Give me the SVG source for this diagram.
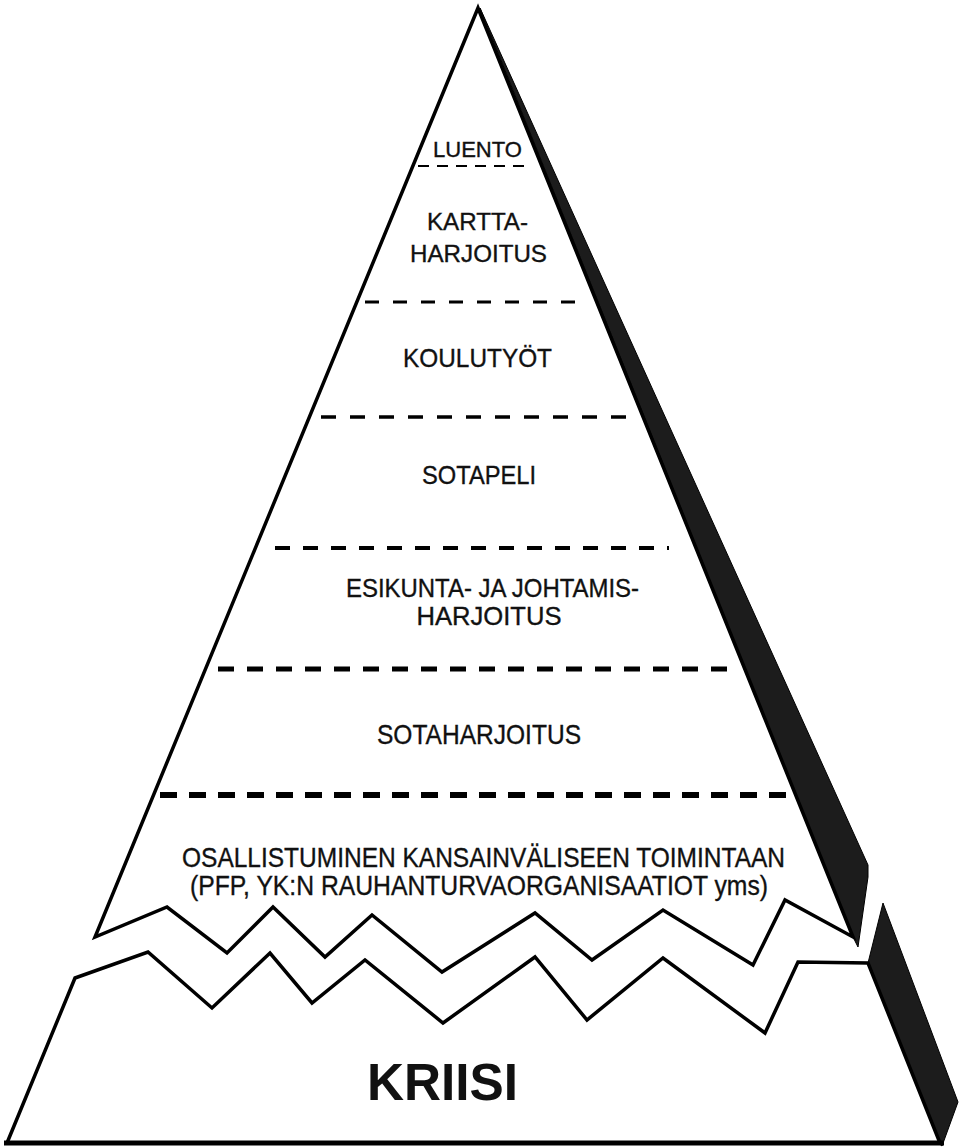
<svg xmlns="http://www.w3.org/2000/svg" width="961" height="1147" viewBox="0 0 961 1147">
<style>
.outline{fill:#fff;stroke:#000;stroke-width:3.5;stroke-linejoin:miter}
.shadow{fill:#1c1c1c;stroke:#000;stroke-width:1}
.dash{stroke:#000;fill:none}
.lbl{font-family:"Liberation Sans",Arial,sans-serif;fill:#111;stroke:#111;stroke-width:0.35;text-anchor:middle}
.big{font-family:"Liberation Sans",Arial,sans-serif;font-size:51px;font-weight:bold;fill:#111;text-anchor:middle}
</style>
<rect width="961" height="1147" fill="#fff"/>
<g id="base">
<polygon class="shadow" points="883,903 958,1102 942,1146 937,1142 868,963"/>
<polygon class="outline" points="7,1143 75,978 148,952 212,1008 270,953 312,1003 365,960 443,1023 535,957 587,1020 663,958 765,1033 798,962 868,963 940,1143"/>
<line x1="4" y1="1143" x2="944" y2="1143" stroke="#000" stroke-width="5"/>
<text class="big" x="442.5" y="1100" textLength="151" lengthAdjust="spacingAndGlyphs">KRIISI</text>
</g>
<g id="pyramid">
<polygon class="shadow" points="480,8 868,865 868,877 858,947 853,937"/>
<polygon class="outline" points="478,8 853,937 785,900 753,965 663,910 592,960 535,913 442,972 372,915 325,957 273,907 227,953 167,907 95,937"/>
</g>
<g id="dividers">
<line class="dash" x1="418" y1="166" x2="529" y2="166" stroke-width="2" stroke-dasharray="11 8"/>
<line class="dash" x1="365" y1="302" x2="589" y2="302" stroke-width="3" stroke-dasharray="14 14"/>
<line class="dash" x1="321" y1="417" x2="632" y2="417" stroke-width="3.5" stroke-dasharray="15 14"/>
<line class="dash" x1="275" y1="548" x2="669" y2="548" stroke-width="4" stroke-dasharray="15 13"/>
<line class="dash" x1="218" y1="669" x2="736" y2="669" stroke-width="5" stroke-dasharray="16 13"/>
<line class="dash" x1="160" y1="795" x2="786" y2="795" stroke-width="6" stroke-dasharray="17 12"/>
</g>
<g id="labels">
<text class="lbl" x="477.5" y="157" font-size="22" textLength="89" lengthAdjust="spacingAndGlyphs">LUENTO</text>
<text class="lbl" x="477.5" y="230" font-size="24" textLength="101" lengthAdjust="spacingAndGlyphs">KARTTA-</text>
<text class="lbl" x="478.5" y="262" font-size="24" textLength="137" lengthAdjust="spacingAndGlyphs">HARJOITUS</text>
<text class="lbl" x="477.5" y="367" font-size="26" textLength="149" lengthAdjust="spacingAndGlyphs">KOULUTYÖT</text>
<text class="lbl" x="479" y="484" font-size="26" textLength="114" lengthAdjust="spacingAndGlyphs">SOTAPELI</text>
<text class="lbl" x="492.5" y="597" font-size="26" textLength="293" lengthAdjust="spacingAndGlyphs">ESIKUNTA- JA JOHTAMIS-</text>
<text class="lbl" x="489" y="625" font-size="26" textLength="145" lengthAdjust="spacingAndGlyphs">HARJOITUS</text>
<text class="lbl" x="479" y="744" font-size="28" textLength="204" lengthAdjust="spacingAndGlyphs">SOTAHARJOITUS</text>
<text class="lbl" x="483.5" y="867" font-size="28" textLength="603" lengthAdjust="spacingAndGlyphs">OSALLISTUMINEN KANSAINVÄLISEEN TOIMINTAAN</text>
<text class="lbl" x="479" y="895" font-size="28" textLength="578" lengthAdjust="spacingAndGlyphs">(PFP, YK:N RAUHANTURVAORGANISAATIOT yms)</text>
</g>
</svg>
